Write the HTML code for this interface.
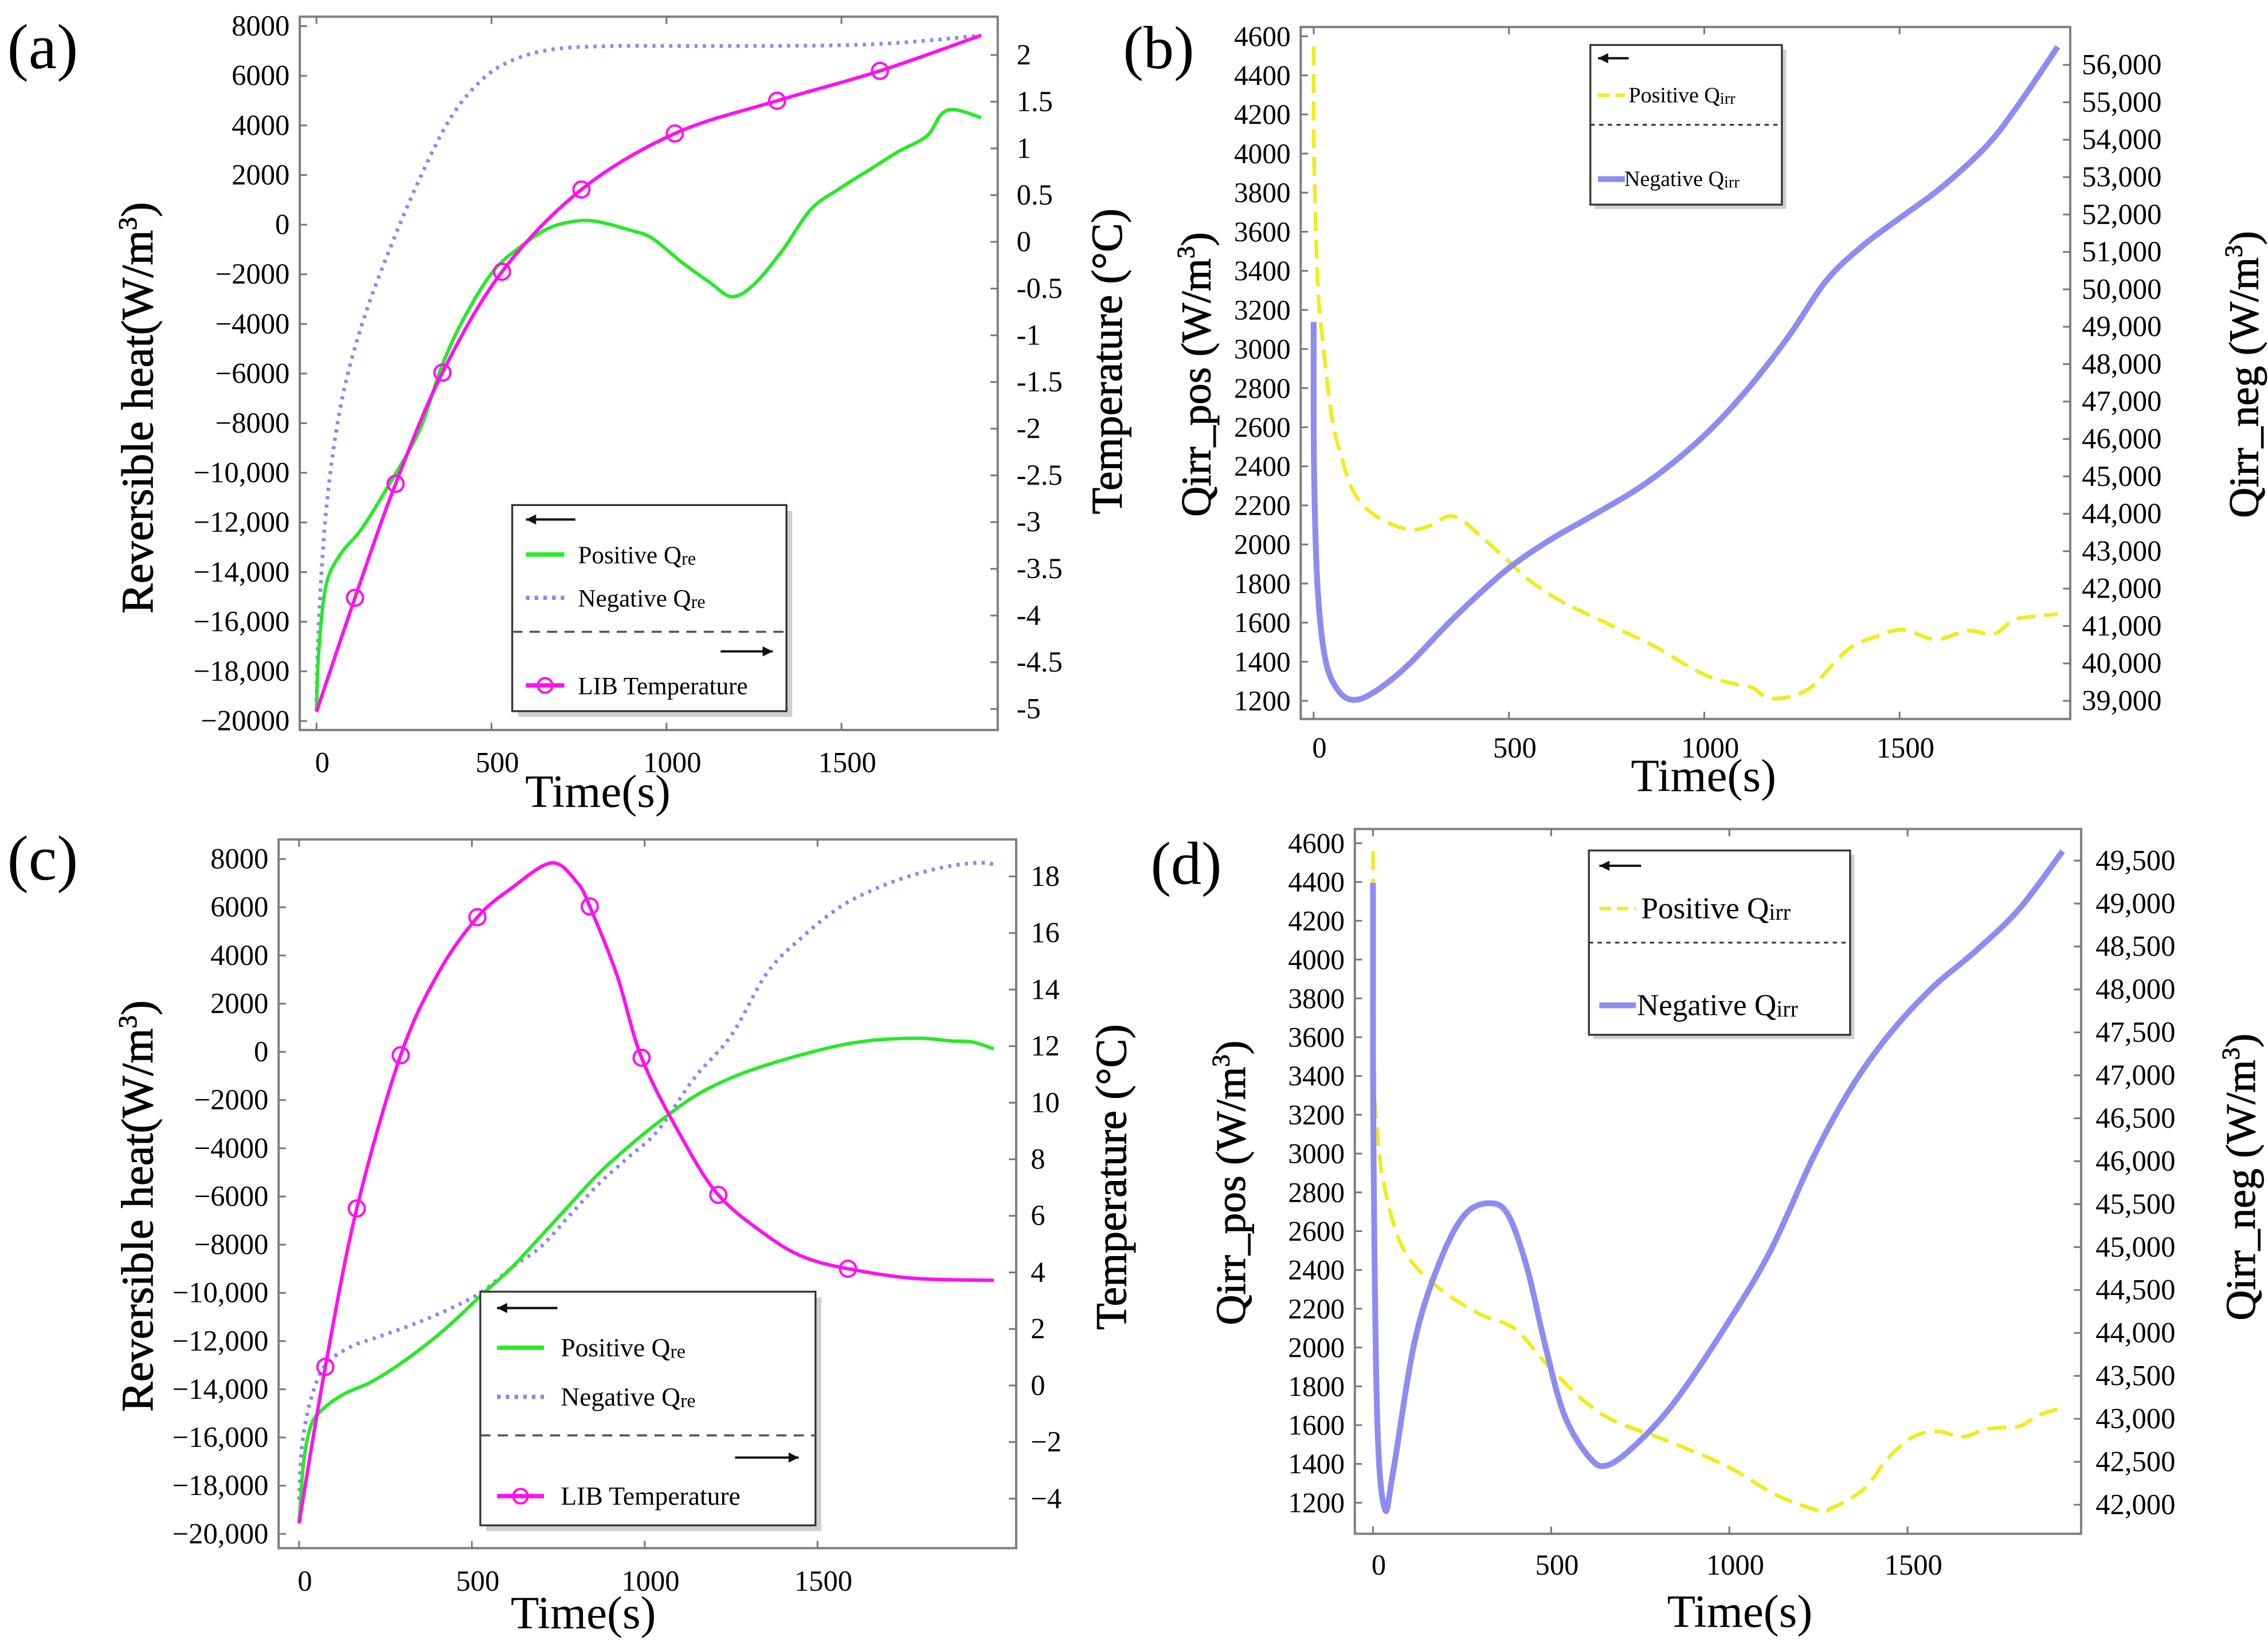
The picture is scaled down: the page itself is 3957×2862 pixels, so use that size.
<!DOCTYPE html>
<html><head><meta charset="utf-8">
<style>
html,body{margin:0;padding:0;background:#fff;}
svg{display:block;}
text{font-family:"Liberation Serif",serif;fill:#000;}
</style></head>
<body>
<svg id="fig" xmlns="http://www.w3.org/2000/svg" width="3957" height="2862" viewBox="0 0 1563 1130" preserveAspectRatio="none"></svg>
<script>
// ---------- Panel (a) data ----------
const aXTicks = [0, 500, 1000, 1500];
const aLeftTicks = [8000,6000,4000,2000,0,-2000,-4000,-6000,-8000,-10000,-12000,-14000,-16000,-18000,-20000];
const aLeftLabels = ["8000","6000","4000","2000","0","\u22122000","\u22124000","\u22126000","\u22128000","\u221210,000","\u221212,000","\u221214,000","\u221216,000","\u221218,000","\u221220000"];
const aRightTicks = [2,1.5,1,0.5,0,-0.5,-1,-1.5,-2,-2.5,-3,-3.5,-4,-4.5,-5];
const aRightLabels = ["2","1.5","1","0.5","0","-0.5","-1","-1.5","-2","-2.5","-3","-3.5","-4","-4.5","-5"];
const aPosT = [0,6,27,68,130,213,296,358,420,503,586,668,751,813,896,958,1041,1124,1186,1248,1330,1413,1496,1579,1662,1744,1786,1827,1899];
const aPosV = [-19615,-17296,-14556,-13291,-12237,-10340,-8232,-5702,-3805,-1908,-854,-116,158,95,-221,-537,-1486,-2329,-2898,-2435,-1064,622,1465,2203,2941,3573,4459,4627,4311];
const aNegT = [0,6,27,68,130,213,296,379,461,544,668,854,1165,1579,1899];
const aNegV = [-19193,-16242,-11604,-7388,-4016,-854,1886,4205,5681,6524,7051,7199,7199,7262,7621];
const aTempT = [0,110,226,360,530,757,1024,1316,1610,1899];
const aTempV = [-5.03,-3.81,-2.59,-1.40,-0.32,0.56,1.16,1.51,1.83,2.21];
const aMarkIdx = [1,2,3,4,5,6,7,8];

// ---------- Panel (b) data ----------
const bXTicks = [0, 500, 1000, 1500];
const bLeftTicks = [4600,4400,4200,4000,3800,3600,3400,3200,3000,2800,2600,2400,2200,2000,1800,1600,1400,1200];
const bRightTicks = [56000,55000,54000,53000,52000,51000,50000,49000,48000,47000,46000,45000,44000,43000,42000,41000,40000,39000];
const bRightLabels = ["56,000","55,000","54,000","53,000","52,000","51,000","50,000","49,000","48,000","47,000","46,000","45,000","44,000","43,000","42,000","41,000","40,000","39,000"];
const bPosT = [0,1,10,21,46,71,104,161,243,301,342,375,424,490,556,638,721,803,885,951,1017,1082,1124,1165,1230,1280,1329,1379,1444,1510,1592,1675,1740,1790,1839,1905];
const bPosV = [4547,3989,3352,3086,2661,2449,2263,2143,2077,2098,2143,2130,2050,1931,1811,1705,1625,1546,1466,1386,1320,1285,1267,1214,1227,1280,1386,1479,1532,1564,1514,1559,1540,1612,1631,1644];
const bNegT = [0,1,10,30,63,104,161,243,359,490,605,721,852,984,1099,1214,1313,1411,1510,1609,1724,1806,1905];
const bNegV = [49129,45243,42051,40107,39275,39025,39275,39969,41218,42467,43300,43994,44827,45937,47186,48713,50240,51211,51975,52738,53849,54959,56486];

// ---------- Panel (c) data ----------
const cXTicks = [0, 500, 1000, 1500];
const cLeftTicks = [8000,6000,4000,2000,0,-2000,-4000,-6000,-8000,-10000,-12000,-14000,-16000,-18000,-20000];
const cLeftLabels = ["8000","6000","4000","2000","0","\u22122000","\u22124000","\u22126000","\u22128000","\u221210,000","\u221212,000","\u221214,000","\u221216,000","\u221218,000","\u221220,000"];
const cRightTicks = [18,16,14,12,10,8,6,4,2,0,-2,-4];
const cRightLabels = ["18","16","14","12","10","8","6","4","2","0","\u22122","\u22124"];
const cPosT = [0,13,34,66,129,214,319,425,531,615,700,784,869,954,1038,1144,1250,1355,1461,1567,1673,1800,1885,1948,2010];
const cPosV = [-19563,-17047,-15516,-14859,-14203,-13656,-12672,-11469,-10047,-8953,-7641,-6328,-5016,-3922,-2938,-1844,-1078,-531,-94,278,497,563,453,409,125];
const cNegT = [0,8,34,76,150,235,340,446,531,615,700,784,869,954,1038,1144,1250,1355,1461,1567,1673,1778,1885,1969,2010];
const cNegV = [-18578,-16391,-14422,-13000,-12234,-11797,-11250,-10594,-9938,-8953,-8078,-6766,-5453,-4359,-3266,-1078,672,3297,4828,6031,6797,7344,7716,7847,7781];
const cTempT = [0,76,167,294,404,516,615,731,805,841,920,991,1101,1213,1355,1461,1588,1778,2010];
const cTempV = [-4.87,0.66,6.26,11.68,14.61,16.56,17.59,18.48,17.78,16.94,14.5,11.59,8.9,6.74,5.29,4.54,4.13,3.79,3.72];
const cMarkIdx = [1,2,3,5,9,11,13,16];

// ---------- Panel (d) data ----------
const dXTicks = [0, 500, 1000, 1500];
const dLeftTicks = [4600,4400,4200,4000,3800,3600,3400,3200,3000,2800,2600,2400,2200,2000,1800,1600,1400,1200];
const dRightTicks = [49500,49000,48500,48000,47500,47000,46500,46000,45500,45000,44500,44000,43500,43000,42500,42000];
const dRightLabels = ["49,500","49,000","48,500","48,000","47,500","47,000","46,500","46,000","45,500","45,000","44,500","44,000","43,500","43,000","42,500","42,000"];
const dPosT = [0,3,12,30,82,170,292,397,484,589,677,816,991,1131,1253,1288,1376,1446,1516,1585,1655,1725,1813,1865,1935];
const dPosV = [4559,3444,3118,2846,2519,2329,2179,2098,1921,1730,1622,1526,1390,1240,1159,1173,1268,1431,1540,1567,1540,1581,1594,1649,1690];
const dNegT = [0,1,12,33,56,117,187,257,327,379,432,484,537,607,659,747,852,991,1114,1236,1341,1446,1568,1690,1813,1935];
const dNegV = [49242,46358,42983,41952,42369,43903,44824,45376,45511,45376,44763,43842,43044,42553,42461,42737,43228,44087,44946,46051,46849,47463,48015,48444,48935,49610];

const NS = "http://www.w3.org/2000/svg";
const svg = document.getElementById('fig');
function mk(tag, attrs, parent){
  const e = document.createElementNS(NS, tag);
  for (const k in attrs) e.setAttribute(k, attrs[k]);
  (parent||svg).appendChild(e);
  return e;
}
function lin(d0,d1,r0,r1){ return v => r0 + (v-d0)/(d1-d0)*(r1-r0); }
function smooth(pts){
  let d = "M"+pts[0][0].toFixed(2)+","+pts[0][1].toFixed(2);
  for (let i=0;i<pts.length-1;i++){
    const p0=pts[Math.max(0,i-1)], p1=pts[i], p2=pts[i+1], p3=pts[Math.min(pts.length-1,i+2)];
    const c1=[p1[0]+(p2[0]-p0[0])/6, p1[1]+(p2[1]-p0[1])/6];
    const c2=[p2[0]-(p3[0]-p1[0])/6, p2[1]-(p3[1]-p1[1])/6];
    d += " C"+c1[0].toFixed(2)+","+c1[1].toFixed(2)+" "+c2[0].toFixed(2)+","+c2[1].toFixed(2)+" "+p2[0].toFixed(2)+","+p2[1].toFixed(2);
  }
  return d;
}
function series(g, ts, vs, fx, fy, style, name){
  const pts = ts.map((t,i)=>[fx(t), fy(vs[i])]);
  const p = mk('path', Object.assign({d:smooth(pts), fill:'none', 'stroke-linejoin':'round','stroke-linecap':'butt'}, style), g);
  
  
  return pts;
}
function txt(g, x, y, s, size, anchor, name){
  const t = mk('text', {x:x, y:y, 'font-size':size, 'text-anchor':anchor||'start'}, g);
  t.textContent = s;
  
  
  return t;
}
function vtitle(g, x, y, s, size, name){
  const t = mk('text', {x:0, y:0, 'font-size':size, 'text-anchor':'middle', stroke:'#000', 'stroke-width':0.4, transform:'translate('+x+','+y+') rotate(-90)'}, g);
  t.innerHTML = s;
  
  
}
function frame(g, F){
  const r = mk('rect', {x:F.x0, y:F.y0, width:F.x1-F.x0, height:F.y1-F.y0, fill:'none', stroke:'#808080', 'stroke-width':1.6}, g);
  
  
}
function xaxis(g, F, ticks, fx, labelY, fs){
  ticks.forEach(t=>{
    const x = fx(t);
    mk('line', {x1:x, x2:x, y1:F.y1, y2:F.y1-5, stroke:'#777', 'stroke-width':1.2}, g);
    mk('line', {x1:x, x2:x, y1:F.y0, y2:F.y0+5, stroke:'#777', 'stroke-width':1.2}, g);
    txt(g, x+4, labelY, String(t), fs, 'middle', 'x-tick-label');
  });
}
function yaxisL(g, F, ticks, labels, fy, fs){
  ticks.forEach((v,i)=>{
    const y = fy(v);
    mk('line', {x1:F.x0, x2:F.x0+5, y1:y, y2:y, stroke:'#777', 'stroke-width':1.2}, g);
    txt(g, F.x0-7, y+6.5, labels[i], fs, 'end', 'left-y-tick-label');
  });
}
function yaxisR(g, F, ticks, labels, fy, fs, dx){
  ticks.forEach((v,i)=>{
    const y = fy(v);
    mk('line', {x1:F.x1, x2:F.x1-5, y1:y, y2:y, stroke:'#777', 'stroke-width':1.2}, g);
    txt(g, F.x1+(dx||10), y+6.5, labels[i], fs, 'start', 'right-y-tick-label');
  });
}
function arrow(g, x1, x2, y, dir){
  mk('line', {x1:x1, x2:x2, y1:y, y2:y, stroke:'#111', 'stroke-width':1.6}, g);
  const tip = dir<0 ? x1 : x2;
  const d = dir<0 ? 7 : -7;
  mk('path', {d:'M'+tip+','+y+' L'+(tip+d)+','+(y-3.5)+' L'+(tip+d)+','+(y+3.5)+' Z', fill:'#111'}, g);
}
function legText(g, x, y, main, sub, fs, name){
  const t = mk('text', {x:x, y:y, 'font-size':fs}, g);
  t.innerHTML = main + (sub ? '<tspan font-size="'+(fs*0.75)+'" dy="1">'+sub+'</tspan>' : '');
  
  
}
function legendQre(g, L, fs){
  const w=L.x1-L.x0, h=L.y1-L.y0;
  mk('rect', {x:L.x0+4, y:L.y0+4, width:w, height:h, fill:'#cfcfcf'}, g);
  const box = mk('rect', {x:L.x0, y:L.y0, width:w, height:h, fill:'#fff', stroke:'#333', 'stroke-width':1.3}, g);
  
  
  arrow(g, L.x0+w*0.05, L.x0+w*0.23, L.y0+h*0.07, -1);
  const sx0=L.x0+w*0.05, sx1=L.x0+w*0.19, tx=L.x0+w*0.24;
  let y=L.y0+h*0.24;
  mk('line', {x1:sx0,x2:sx1,y1:y,y2:y,stroke:'#22ee22','stroke-width':3}, g);
  legText(g, tx, y+6, 'Positive Q', 're', fs, 'legend-entry-positive');
  y=L.y0+h*0.45;
  mk('line', {x1:sx0,x2:sx1,y1:y,y2:y,stroke:'#8888f5','stroke-width':3,'stroke-dasharray':'2.5,3.5'}, g);
  legText(g, tx, y+6, 'Negative Q', 're', fs, 'legend-entry-negative');
  y=L.y0+h*0.615;
  mk('line', {x1:L.x0,x2:L.x1,y1:y,y2:y,stroke:'#555','stroke-width':1.4,'stroke-dasharray':'7,5'}, g);
  arrow(g, L.x0+w*0.76, L.x0+w*0.95, L.y0+h*0.71, 1);
  y=L.y0+h*0.875;
  mk('line', {x1:sx0,x2:sx1,y1:y,y2:y,stroke:'#ff10ee','stroke-width':3}, g);
  mk('circle', {cx:(sx0+sx1)/2, cy:y, r:5, fill:'none', stroke:'#ff10ee','stroke-width':1.6}, g);
  legText(g, tx, y+6, 'LIB Temperature', '', fs, 'legend-entry-temperature');
}
function legendQirr(g, L, fs){
  const w=L.x1-L.x0, h=L.y1-L.y0;
  mk('rect', {x:L.x0+3, y:L.y0+3, width:w, height:h, fill:'#cfcfcf'}, g);
  const box = mk('rect', {x:L.x0, y:L.y0, width:w, height:h, fill:'#fff', stroke:'#333', 'stroke-width':1.3}, g);
  
  
  arrow(g, L.x0+w*0.04, L.x0+w*0.2, L.y0+h*0.083, -1);
  const sx0=L.x0+w*0.04, sx1=L.x0+w*0.18, tx=L.x0+w*0.2;
  let y=L.y0+h*0.315;
  mk('line', {x1:sx0,x2:sx1,y1:y,y2:y,stroke:'#f0ee20','stroke-width':2.5,'stroke-dasharray':'8,4'}, g);
  legText(g, tx, y+fs*0.32, 'Positive Q', 'irr', fs, 'legend-entry-positive');
  y=L.y0+h*0.5;
  mk('line', {x1:L.x0,x2:L.x1,y1:y,y2:y,stroke:'#333','stroke-width':1.2,'stroke-dasharray':'3,3'}, g);
  y=L.y0+h*0.84;
  mk('line', {x1:sx0,x2:sx1,y1:y,y2:y,stroke:'#8c8cf2','stroke-width':4}, g);
  legText(g, tx-3, y+fs*0.32, 'Negative Q', 'irr', fs, 'legend-entry-negative');
}
function markers(g, pts, idx){
  idx.forEach(i=>{
    const c = mk('circle', {cx:pts[i][0], cy:pts[i][1], r:5.5, fill:'none', stroke:'#ff10ee', 'stroke-width':1.6}, g);
    
    
  });
}
const GREEN={stroke:'#2ae82a','stroke-width':2.4};
const DOT={stroke:'#8a8af2','stroke-width':2.6,'stroke-dasharray':'2.2,3.6'};
const MAG={stroke:'#ff10ee','stroke-width':2.4};
const YEL={stroke:'#f0ec1e','stroke-width':2.6,'stroke-dasharray':'13,6'};
const BLU={stroke:'#8c8cf2','stroke-width':4};

// ===== Panel a =====
(function(){
  const g = mk('g', {});
  
  
  const F={x0:206.6,x1:687.6,y0:11.5,y1:503};
  const fx=lin(0,500,218.1,338.7), fy=lin(8000,-20000,18,496.8), fT=lin(2,-5,37.9,488.5);
  frame(g,F);
  xaxis(g,F,aXTicks,fx,532,20);
  yaxisL(g,F,aLeftTicks,aLeftLabels,fy,20);
  yaxisR(g,F,aRightTicks,aRightLabels,fT,20,13);
  series(g,aNegT,aNegV,fx,fy,DOT,'negative-qre-line');
  series(g,aPosT,aPosV,fx,fy,GREEN,'positive-qre-line');
  const p=series(g,aTempT,aTempV,fx,fT,MAG,'lib-temperature-line');
  markers(g,p,aMarkIdx);
  legendQre(g,{x0:353,y0:348,x1:542,y1:490},17);
  txt(g,5,47,'(a)',44,'start','panel-label-a');
  txt(g,412,556,'Time(s)',32,'middle','x-axis-title');
  vtitle(g,105,281,'Reversible heat(W/m<tspan font-size="18" dy="-11">3</tspan><tspan dy="11">)</tspan>',31,'left-y-axis-title');
  vtitle(g,773,249,'Temperature (°C)',30,'right-y-axis-title');
})();

// ===== Panel b =====
(function(){
  const g = mk('g', {});
  
  
  const F={x0:896.4,x1:1426.7,y0:18.6,y1:495.4};
  const fx=lin(0,500,905.3,1039.9), fy=lin(4600,1200,25,482.9), fR=lin(56000,39000,44.7,482.9);
  frame(g,F);
  xaxis(g,F,bXTicks,fx,522,20);
  yaxisL(g,F,bLeftTicks,bLeftTicks.map(String),fy,19.5);
  yaxisR(g,F,bRightTicks,bRightLabels,fR,20,8);
  series(g,bPosT,bPosV,fx,fy,YEL,'positive-qirr-line');
  series(g,bNegT,bNegV,fx,fR,BLU,'negative-qirr-line');
  legendQirr(g,{x0:1096,y0:31,x1:1228,y1:141},15);
  txt(g,774,47,'(b)',42,'start','panel-label-b');
  txt(g,1174,545,'Time(s)',32,'middle','x-axis-title');
  vtitle(g,834,258,'Qirr_pos (W/m<tspan font-size="17" dy="-11">3</tspan><tspan dy="11">)</tspan>',29,'left-y-axis-title');
  vtitle(g,1556,258,'Qirr_neg (W/m<tspan font-size="17" dy="-11">3</tspan><tspan dy="11">)</tspan>',29,'right-y-axis-title');
})();

// ===== Panel c =====
(function(){
  const g = mk('g', {});
  
  
  const F={x0:192,x1:700.3,y0:578.4,y1:1066.7};
  const fx=lin(0,500,206.1,325.2), fy=lin(8000,-20000,591.9,1056.9), fT=lin(18,-4,603.9,1032.6);
  frame(g,F);
  xaxis(g,F,cXTicks,fx,1096,20);
  yaxisL(g,F,cLeftTicks,cLeftLabels,fy,20);
  yaxisR(g,F,cRightTicks,cRightLabels,fT,20,10);
  series(g,cNegT,cNegV,fx,fy,DOT,'negative-qre-line');
  series(g,cPosT,cPosV,fx,fy,GREEN,'positive-qre-line');
  const p=series(g,cTempT,cTempV,fx,fT,MAG,'lib-temperature-line');
  markers(g,p,cMarkIdx);
  legendQre(g,{x0:331,y0:890,x1:562,y1:1051},18);
  txt(g,5,606,'(c)',44,'start','panel-label-c');
  txt(g,402,1122,'Time(s)',32,'middle','x-axis-title');
  vtitle(g,105,831,'Reversible heat(W/m<tspan font-size="18" dy="-11">3</tspan><tspan dy="11">)</tspan>',31,'left-y-axis-title');
  vtitle(g,776,811,'Temperature (°C)',30,'right-y-axis-title');
})();

// ===== Panel d =====
(function(){
  const g = mk('g', {});
  
  
  const F={x0:933.7,x1:1434.2,y0:571.2,y1:1056.8};
  const fx=lin(0,500,946.2,1069), fy=lin(4600,1200,581,1035.4), fR=lin(49500,42000,593,1036.8);
  frame(g,F);
  xaxis(g,F,dXTicks,fx,1085,20);
  yaxisL(g,F,dLeftTicks,dLeftTicks.map(String),fy,19.5);
  yaxisR(g,F,dRightTicks,dRightLabels,fR,20,10);
  series(g,dPosT,dPosV,fx,fy,YEL,'positive-qirr-line');
  series(g,dNegT,dNegV,fx,fR,BLU,'negative-qirr-line');
  legendQirr(g,{x0:1095,y0:586,x1:1275,y1:713},21);
  txt(g,793,609,'(d)',42,'start','panel-label-d');
  txt(g,1199,1121,'Time(s)',32,'middle','x-axis-title');
  vtitle(g,858,815,'Qirr_pos (W/m<tspan font-size="17" dy="-11">3</tspan><tspan dy="11">)</tspan>',29,'left-y-axis-title');
  vtitle(g,1554,811,'Qirr_neg (W/m<tspan font-size="17" dy="-11">3</tspan><tspan dy="11">)</tspan>',29,'right-y-axis-title');
})();
</script>
</body></html>
